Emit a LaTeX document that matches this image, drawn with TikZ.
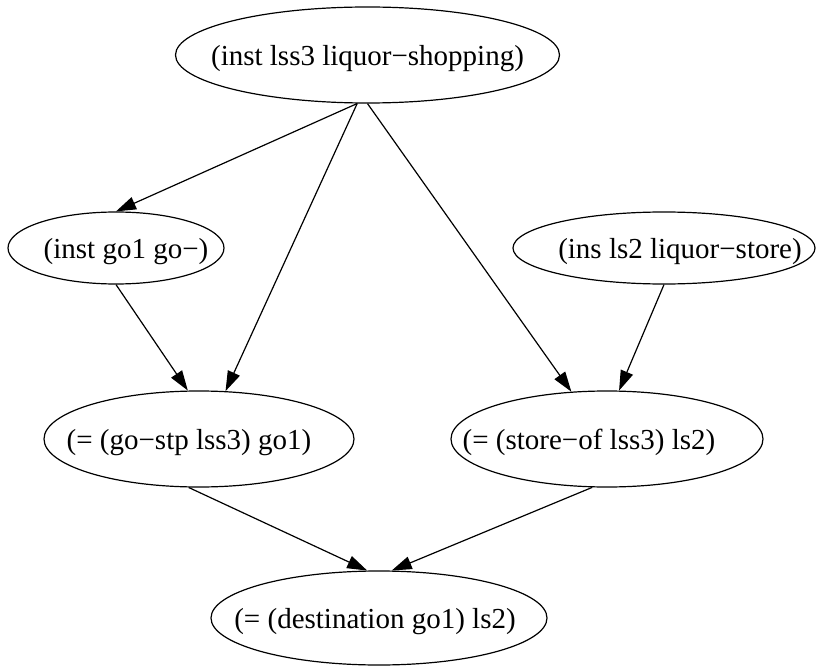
\documentclass[tikz,border=0pt]{standalone}
\usepackage{fontspec}
\setmainfont{Liberation Serif}
\usepackage{tikz}
\usetikzlibrary{arrows.meta}
\usetikzlibrary{shapes.geometric}
\pgfdeclarelayer{edgelayer}
\pgfdeclarelayer{nodelayer}
\pgfsetlayers{edgelayer,nodelayer,main}
\newcommand{\nodetext}[2][0pt]{\makebox[0pt]{\hspace*{#1}\hspace*{#1}#2}}
\tikzstyle{none}=[inner sep=0pt]
\tikzstyle{fact_node}=[draw=black, fill=white, shape=ellipse, line width=1.2pt, inner sep=0pt, text height=21pt, text depth=0pt, font=\fontsize{29pt}{35pt}\selectfont]
\tikzstyle{directed_edge}=[-{Triangle[length=20pt, width=13pt]}, draw=black, line width=1.2pt]

\begin{document}
\begin{tikzpicture}[x=1pt, y=-1pt]
    \useasboundingbox (0, 0) rectangle (817, 666);
    \begin{pgfonlayer}{nodelayer}
        % top event
        \node [style={fact_node}, minimum width=384pt, minimum height=96pt] (0) at (367.5, 55) {\nodetext{(inst lss3 liquor−shopping)}};

        % instances
        \node [style={fact_node}, minimum width=216pt, minimum height=72pt] (1) at (116, 248) {\nodetext[10pt]{(inst go1 go−)}};
        \node [style={fact_node}, minimum width=302pt, minimum height=72pt] (2) at (664, 248) {\nodetext[16pt]{(ins ls2 liquor−store)}};

        % role bindings
        \node [style={fact_node}, minimum width=310pt, minimum height=96pt] (3) at (199, 439) {\nodetext[-10pt]{(= (go−stp lss3) go1)}};
        \node [style={fact_node}, minimum width=312pt, minimum height=96pt] (4) at (607, 439) {\nodetext[-18pt]{(= (store−of lss3) ls2)}};

        % conclusion
        \node [style={fact_node}, minimum width=336pt, minimum height=94pt] (5) at (379, 618) {\nodetext[-4pt]{(= (destination go1) ls2)}};
    \end{pgfonlayer}
    \begin{pgfonlayer}{edgelayer}
        \draw [style={directed_edge}] (0.258) to (1.north);
        \draw [style={directed_edge}] (0.258) to (3.61);
        \draw [style={directed_edge}] (0.south) to (4.127);
        \draw [style={directed_edge}] (1.south) to (3.103);
        \draw [style={directed_edge}] (2.south) to (4.76);
        \draw [style={directed_edge}] (3.258) to (5.104);
        \draw [style={directed_edge}] (4.253) to (5.75);
    \end{pgfonlayer}
\end{tikzpicture}
\end{document}
